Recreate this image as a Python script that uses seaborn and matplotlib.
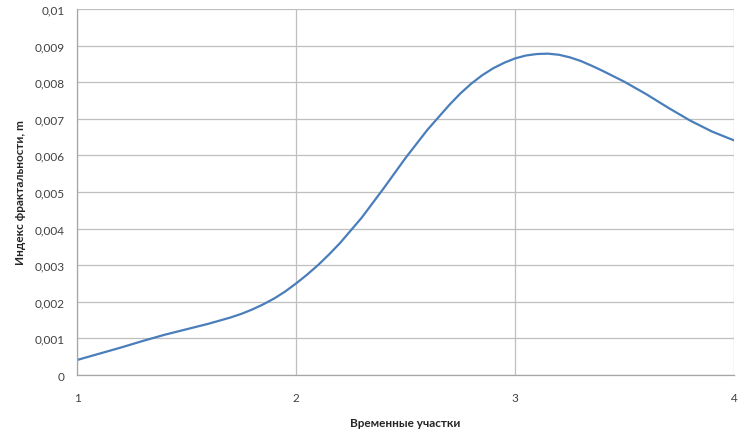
import numpy as np
import pandas as pd
import matplotlib
matplotlib.use("Agg")
import matplotlib.pyplot as plt
import seaborn as sns

# Значения (индекс фрактальности по временным участкам)
uchastok = [1.0, 1.1, 1.2, 1.3, 1.4, 1.5, 1.6, 1.7, 1.75, 1.8, 1.85, 1.9, 1.95,
            2.0, 2.05, 2.1, 2.15, 2.2, 2.3, 2.4, 2.5, 2.6, 2.7, 2.75, 2.8, 2.85, 2.9, 2.95,
            3.0, 3.05, 3.1, 3.15, 3.2, 3.25, 3.3, 3.35, 3.4, 3.5, 3.6, 3.7, 3.8, 3.9, 4.0]
indeks = [0.00041, 0.00058, 0.00075, 0.00093, 0.00110, 0.00125, 0.00140, 0.00157, 0.00167, 0.00179,
          0.00193, 0.00209, 0.00228,
          0.00250, 0.00274, 0.00300, 0.00329, 0.00360, 0.00430, 0.00510, 0.00593, 0.00670, 0.00738,
          0.00769, 0.00796, 0.00819, 0.00838, 0.00853,
          0.00865, 0.00873, 0.00877, 0.00878, 0.00875, 0.00868, 0.00858, 0.00845, 0.00831,
          0.00801, 0.00767, 0.00730, 0.00695, 0.00665, 0.00641]

x_ticks = [1, 2, 3, 4]
y_ticks = [0, 0.001, 0.002, 0.003, 0.004, 0.005, 0.006, 0.007, 0.008, 0.009, 0.01]
y_labels = ["0", "0,001", "0,002", "0,003", "0,004", "0,005", "0,006", "0,007", "0,008", "0,009", "0,01"]

df = pd.DataFrame({"x": uchastok, "m": indeks})

sns.set_style("white")
plt.rcParams["font.family"] = ["Lato", "DejaVu Sans"]

fig = plt.figure(figsize=(7.45, 4.35), dpi=100)
ax = fig.add_axes([0.1034, 0.1356, 0.8819, 0.8414])

sns.lineplot(data=df, x="x", y="m", color="#4A7EBB", linewidth=1.6, ax=ax)

ax.set_xlim(1, 4)
ax.set_ylim(0, 0.01)
ax.set_xticks(x_ticks)
ax.set_xticklabels([str(t) for t in x_ticks])
ax.set_yticks(y_ticks)
ax.set_yticklabels(y_labels)

ax.grid(True, color="#BFBFBF", linewidth=0.9)
ax.set_axisbelow(True)
for side in ["top", "right"]:
    ax.spines[side].set_visible(False)
for side in ["left", "bottom"]:
    ax.spines[side].set_color("#A6A6A6")
    ax.spines[side].set_linewidth(0.9)

ax.tick_params(axis="both", which="major", direction="out", length=4, width=0.9,
               color="#A6A6A6", labelsize=8.5, labelcolor="#404040")
ax.tick_params(axis="x", pad=8)
ax.tick_params(axis="y", pad=5)

ax.set_xlabel("Временные участки", fontsize=8.5, fontweight="bold", color="#262626", labelpad=10)
ax.set_ylabel("Индекс фрактальности, m", fontsize=8.5, fontweight="bold", color="#262626", labelpad=6)

fig.savefig("out.png", dpi=100)
